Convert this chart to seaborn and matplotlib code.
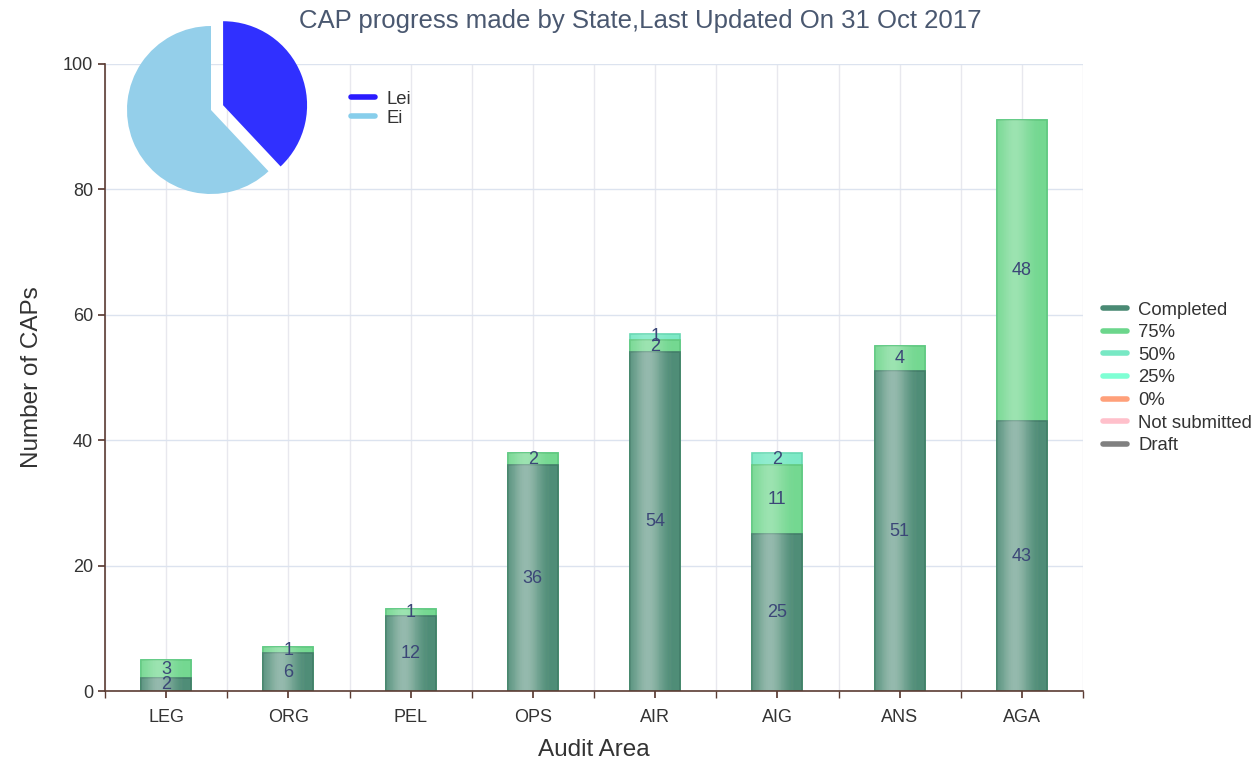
import numpy as np
import pandas as pd
import matplotlib
matplotlib.use("Agg")
import matplotlib.pyplot as plt
from matplotlib.lines import Line2D
import seaborn as sns

areas = ["LEG", "ORG", "PEL", "OPS", "AIR", "AIG", "ANS", "AGA"]
completed = [2, 6, 12, 36, 54, 25, 51, 43]
pct75 = [3, 1, 1, 2, 2, 11, 4, 48]
pct50 = [0, 0, 0, 0, 1, 2, 0, 0]

pie_labels = ["Lei", "Ei"]
pie_values = [38, 62]

status_names = ["Completed", "75%", "50%", "25%", "0%", "Not submitted", "Draft"]
status_colors = ["#4a8a74", "#6cd68c", "#78e8c4", "#7fffd4", "#ffa07a", "#ffc0cb", "#808080"]
bar_colors = ["#4f8d77", "#74d891", "#7de9c6"]
edge_colors = ["#427d69", "#62c97f", "#66d8b2"]

sns.set_theme(style="white")
plt.rcParams["font.family"] = ["Liberation Sans", "DejaVu Sans"]

fig = plt.figure(figsize=(12.55, 7.59), dpi=100)
ax = fig.add_axes([105 / 1255, 1 - 691 / 759, (1083 - 105) / 1255, (691 - 64) / 759])

df = pd.DataFrame({"area": areas, "completed": completed, "p75": pct75, "p50": pct50})
df["c2"] = df["completed"] + df["p75"]
df["c3"] = df["c2"] + df["p50"]

bar_w = 0.41
layers = [("c3", bar_colors[2], edge_colors[2]),
          ("c2", bar_colors[1], edge_colors[1]),
          ("completed", bar_colors[0], edge_colors[0])]
for col, fc, ec in layers:
    sns.barplot(data=df, x="area", y=col, color=fc, saturation=1, width=bar_w,
                edgecolor=ec, linewidth=1.2, ax=ax, order=areas)

# soft vertical highlight on each bar
t = np.linspace(0, 1, 64)
alpha = 0.16 * np.exp(-((t - 0.35) / 0.28) ** 2)
grad = np.zeros((1, 64, 4))
grad[..., :3] = 1.0
grad[..., 3] = alpha
for p in list(ax.patches):
    h = p.get_height()
    if h <= 0:
        continue
    x0, y0, w = p.get_x(), p.get_y(), p.get_width()
    im = ax.imshow(grad, extent=[x0, x0 + w, y0, y0 + h], aspect="auto",
                   interpolation="bicubic", zorder=p.get_zorder() + 0.1)
    im.set_clip_path(p)

label_color = "#3b4677"
for i in range(len(areas)):
    segs = [(0, completed[i]), (completed[i], pct75[i]),
            (completed[i] + pct75[i], pct50[i])]
    for base, v in segs:
        if v > 0:
            ax.text(i, base + v / 2, str(v), ha="center", va="center",
                    fontsize=13, color=label_color, zorder=10)

ax.set_xlim(-0.5, 7.5)
ax.set_ylim(0, 100)
ax.set_yticks([0, 20, 40, 60, 80, 100])
ax.set_xticks(np.arange(-0.5, 8, 0.5), minor=True)
ax.grid(True, which="minor", axis="x", color="#e8e8ee", linewidth=1)
ax.grid(True, which="major", axis="y", color="#dce3ef", linewidth=1)
ax.grid(True, which="major", axis="x", color="#e8e8ee", linewidth=1)
ax.set_axisbelow(True)
for s in ["top", "right"]:
    ax.spines[s].set_visible(False)
for s in ["left", "bottom"]:
    ax.spines[s].set_color("#5b3c33")
    ax.spines[s].set_linewidth(1.2)
ax.tick_params(axis="both", which="both", direction="out", length=5,
               color="#5b3c33", labelsize=13, labelcolor="#333333", bottom=True, left=True)
ax.tick_params(axis="x", which="major", pad=8)
ax.set_xlabel("Audit Area", fontsize=17.5, color="#333333", labelpad=9)
ax.set_ylabel("Number of CAPs", fontsize=17.5, color="#333333", labelpad=14)

fig.text(640 / 1255, 1 - 21 / 759, "CAP progress made by State,Last Updated On 31 Oct 2017",
         ha="center", va="center", fontsize=18.5, color="#4a5870")

handles = [Line2D([0], [0], color=c, lw=4) for c in status_colors]
fig.legend(handles, status_names, loc="center left", bbox_to_anchor=(1090 / 1255, 1 - 378 / 759),
           frameon=False, fontsize=13.3, handlelength=1.3, handletextpad=0.6,
           labelspacing=0.3, labelcolor="#333333", borderpad=0.2)

# pie inset
pax = fig.add_axes([(211 - 100) / 1255, 1 - (110 + 100) / 759, 200 / 1255, 200 / 759])
pax.pie(pie_values, colors=["#3030ff", "#94cfea"], startangle=90, counterclock=False,
        explode=[0.13, 0], radius=0.84, wedgeprops=dict(linewidth=0))
pax.set_xlim(-1, 1)
pax.set_ylim(-1, 1)
pax.set_aspect("equal")
pax.axis("off")
ph = [Line2D([0], [0], color=c, lw=4) for c in ["#2a1bff", "#87ceeb"]]
fig.legend(ph, pie_labels, loc="upper left", bbox_to_anchor=(338 / 1255, 1 - 78 / 759),
           frameon=False, fontsize=13.3, handlelength=1.3, handletextpad=0.6,
           labelspacing=0.1, labelcolor="#333333", borderpad=0.2)

fig.savefig("out.png", dpi=100)
